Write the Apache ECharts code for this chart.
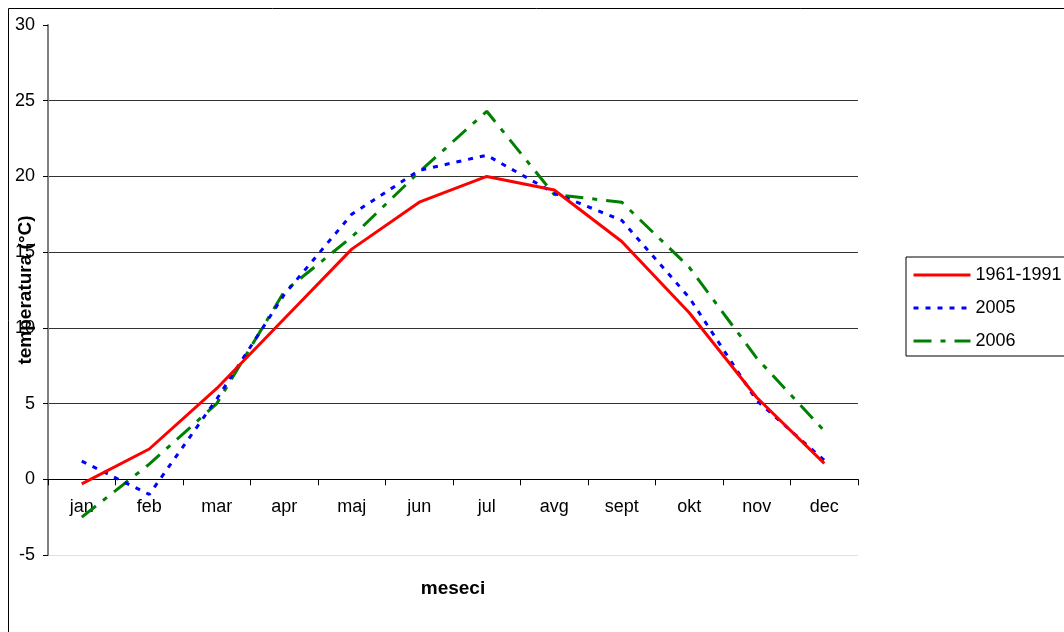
<!DOCTYPE html>
<html>
<head>
<meta charset="utf-8">
<style>
    html, body { margin: 0; padding: 0; background: #fff; }
    #chart { width: 1064px; height: 632px; }
</style>
<script src="https://cdn.jsdelivr.net/npm/echarts@6/dist/echarts.min.js"></script>
</head>
<body>
<div id="chart"></div>
<script>
// podaci
const months = ['jan', 'feb', 'mar', 'apr', 'maj', 'jun', 'jul', 'avg', 'sept', 'okt', 'nov', 'dec'];
const avg6191 = [-0.3, 2.0, 6.0, 10.6, 15.2, 18.3, 20.0, 19.1, 15.7, 11.0, 5.4, 1.05];
const y2005 = [1.2, -1.0, 5.3, 12.2, 17.5, 20.4, 21.4, 18.9, 17.1, 12.0, 5.2, 1.25];
const y2006 = [-2.5, 1.0, 5.0, 12.4, 16.0, 20.3, 24.3, 18.8, 18.3, 14.0, 8.0, 3.2];
const seriesNames = ['1961-1991', '2005', '2006'];

const chart = echarts.init(document.getElementById('chart'));
const font = 'Liberation Sans, Arial, sans-serif';

chart.setOption({
    animation: false,
    graphic: [
        {
            type: 'rect',
            shape: { x: 8.5, y: 8.5, width: 1200, height: 800 },
            style: { fill: 'none', stroke: '#000', lineWidth: 1 },
            silent: true
        }
    ],
    legend: {
        orient: 'vertical',
        left: 906,
        top: 257,
        data: seriesNames,
        itemWidth: 57,
        itemHeight: 16,
        itemGap: 15,
        padding: [9, 100, 6, 6],
        borderColor: '#000',
        borderWidth: 1,
        backgroundColor: '#fff',
        itemStyle: { opacity: 0 },
        lineStyle: { width: 3 },
        textStyle: { fontFamily: font, fontSize: 18, color: '#000', padding: [0, 0, 0, 0] }
    },
    grid: {
        left: 48,
        right: 206,
        top: 25,
        bottom: 77,
        containLabel: false,
        outerBoundsMode: 'none'
    },
    xAxis: {
        type: 'category',
        data: months,
        boundaryGap: true,
        name: 'meseci',
        nameLocation: 'middle',
        nameGap: 24,
        nameMoveOverlap: false,
        nameTextStyle: { fontFamily: font, fontSize: 19, fontWeight: 'bold', color: '#000' },
        axisLine: { onZero: true, lineStyle: { color: '#000', width: 1 } },
        axisTick: { show: true, inside: false, length: 6, lineStyle: { color: '#000' } },
        axisLabel: { fontFamily: font, fontSize: 18, color: '#000', margin: -57, interval: 0 },
        splitLine: { show: false }
    },
    yAxis: {
        type: 'value',
        min: -5,
        max: 30,
        interval: 5,
        name: 'temperatura (°C)',
        nameLocation: 'middle',
        nameGap: 13,
        nameRotate: 90,
        nameMoveOverlap: false,
        nameTextStyle: { fontFamily: font, fontSize: 19, fontWeight: 'bold', color: '#000' },
        axisLine: { show: true, lineStyle: { color: '#808080', width: 2 } },
        axisTick: { show: true, length: 5, lineStyle: { color: '#000' } },
        axisLabel: { fontFamily: font, fontSize: 18, color: '#000', margin: 13 },
        splitLine: {
            show: true,
            lineStyle: {
                color: ['#e0e0e0', 'rgba(0,0,0,0)', '#333', '#333', '#333', '#333', '#333', 'rgba(0,0,0,0)'],
                width: 1
            }
        }
    },
    series: [
        {
            name: seriesNames[0],
            type: 'line',
            data: avg6191,
            symbol: 'none',
            itemStyle: { color: '#ff0000' },
            lineStyle: { color: '#ff0000', width: 3, type: 'solid' },
            z: 3
        },
        {
            name: seriesNames[1],
            type: 'line',
            data: y2005,
            symbol: 'none',
            itemStyle: { color: '#0000ff' },
            lineStyle: { color: '#0000ff', width: 3, type: [5, 7] },
            z: 2
        },
        {
            name: seriesNames[2],
            type: 'line',
            data: y2006,
            symbol: 'none',
            itemStyle: { color: '#008000' },
            lineStyle: { color: '#008000', width: 3, type: [18, 9, 5, 9] },
            z: 1
        }
    ]
});

window.addEventListener('resize', function () {
    chart.resize();
});
</script>
</body>
</html>
